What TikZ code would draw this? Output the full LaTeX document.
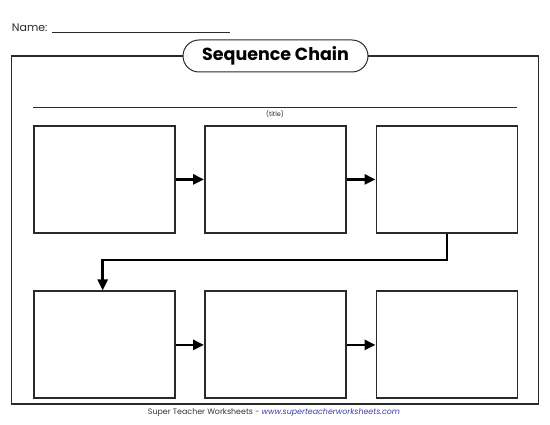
\documentclass[tikz,border=0pt]{standalone}
\usepackage{fontspec}
\setmainfont{Poppins}
\usetikzlibrary{arrows.meta}
\definecolor{ink}{HTML}{2A2A2A}
\definecolor{linkblue}{HTML}{3A3AA8}
\definecolor{foot}{HTML}{333333}
\tikzset{
  cell/.style={draw=ink, line width=1.8pt, minimum width=141pt, minimum height=107pt, inner sep=0pt, anchor=north west},
  flow/.style={draw=black, line width=2.6pt, -{Triangle[length=11pt,width=10pt]}},
  frame/.style={draw=ink, line width=1.2pt},
}
\begin{document}
\begin{tikzpicture}[x=1pt,y=-1pt]
\useasboundingbox (0,0) rectangle (550,425);
% Name line
\node[anchor=base west, inner sep=0pt, font=\fontsize{11}{12}\selectfont, text=ink] (name) at (11.7,31.7) {Name:};
\coordinate (ulA) at (52,32.3);
\coordinate (ulB) at (230,32.3);
\draw[ink, line width=0.8pt] (ulA) -- (ulB);
% outer frame
\coordinate (fr1) at (11.7,56);
\coordinate (fr2) at (538.3,404);
\draw[frame] (fr1) rectangle (fr2);
% title pill
\node[draw=ink, line width=1pt, fill=white, rounded corners=16pt, minimum width=185pt, minimum height=32pt, inner sep=0pt, font=\fontsize{17.5}{20}\selectfont\bfseries, text=black] (head) at (275.5,56) {Sequence Chain};
% title line
\coordinate (tl1) at (33.3,107.7);
\coordinate (tl2) at (516.7,107.7);
\draw[ink, line width=1pt] (tl1) -- (tl2);
\node[font=\fontsize{6.5}{7}\selectfont, text=ink, inner sep=0pt] (ttl) at (275,114) {(title)};
% boxes
\node[cell] (b1) at (33,125) {};
\node[cell] (b2) at (204,125) {};
\node[cell] (b3) at (375.5,125) {};
\node[cell] (b4) at (33,290.5) {};
\node[cell] (b5) at (204,290.5) {};
\node[cell] (b6) at (375.5,290.5) {};
% arrows
\draw[flow] (b1.east) -- (b2.west);
\draw[flow] (b2.east) -- (b3.west);
\draw[flow] (b4.east) -- (b5.west);
\draw[flow] (b5.east) -- (b6.west);
\coordinate (c1) at (447,260);
\coordinate (c2) at (102.7,260);
\draw[flow] (b3.south -| c1) |- (c2) -- (c2 |- b4.north);
% footer
\node[font=\fontsize{7.9}{9}\selectfont, inner sep=0pt] (footer) at (274,412.5) {\textcolor{foot}{Super Teacher Worksheets - }\textcolor{linkblue}{\itshape www.superteacherworksheets.com}};
\end{tikzpicture}
\end{document}
